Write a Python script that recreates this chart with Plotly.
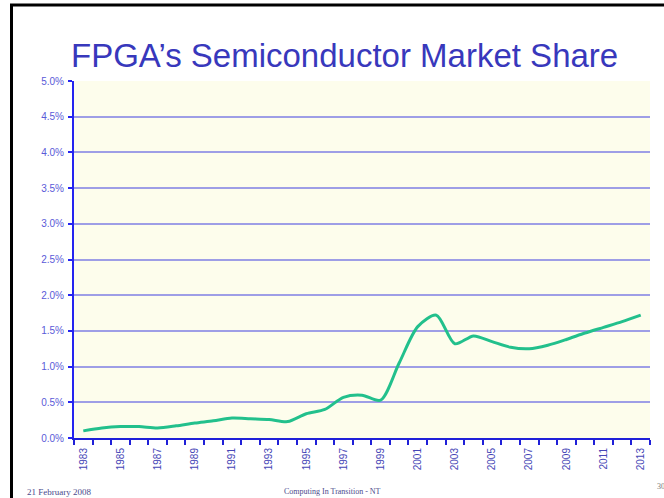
import plotly.graph_objects as go

years = list(range(1983, 2014))
share_pct = [0.10, 0.14, 0.16, 0.16, 0.14, 0.17, 0.21, 0.24, 0.28, 0.27,
             0.26, 0.23, 0.34, 0.40, 0.57, 0.60, 0.53, 1.05, 1.56, 1.72,
             1.32, 1.43, 1.35, 1.27, 1.25, 1.30, 1.38, 1.47, 1.55, 1.63, 1.72]
x_tick_years = list(range(1983, 2014, 2))
y_tick_vals = [i * 0.5 for i in range(11)]
y_tick_text = [f"{v:.1f}%" for v in y_tick_vals]

W, H = 664, 498
L, R, T, B = 74, 14, 81, 60
pw, ph = W - L - R, H - T - B

def px(x):
    return (x - L) / pw

def py(y):
    return 1 - (y - T) / ph

fig = go.Figure()
fig.add_trace(go.Scatter(
    x=years, y=share_pct, mode="lines",
    line=dict(color="#22c08c", width=3, shape="spline", smoothing=0.8),
    hoverinfo="x+y", showlegend=False,
))

fig.update_layout(
    width=W, height=H,
    margin=dict(l=L, r=R, t=T, b=B),
    paper_bgcolor="white",
    plot_bgcolor="#fdfdec",
    title=dict(text="FPGA\u2019s Semiconductor Market Share",
               font=dict(family="Liberation Sans, Arial", size=33, color="#3838bc"),
               x=0.519, xref="container", xanchor="center",
               y=1 - 55 / H, yref="container", yanchor="middle"),
    xaxis=dict(
        range=[1982.5, 2013.5],
        tickmode="array", tickvals=x_tick_years, ticktext=[str(y) for y in x_tick_years],
        tickangle=-90, ticks="", ticklabelstandoff=4,
        tickfont=dict(family="Liberation Sans, Arial", size=10, color="#4646b6"),
        showgrid=False, zeroline=False,
        showline=True, linecolor="#2020d8", linewidth=2,
        minor=dict(ticks="outside", tick0=1982.5, dtick=1, ticklen=5,
                   tickwidth=2, tickcolor="#2020d8", showgrid=False),
        fixedrange=True,
    ),
    yaxis=dict(
        range=[0, 5],
        tickmode="array", tickvals=y_tick_vals, ticktext=y_tick_text,
        ticks="outside", ticklen=4, tickwidth=2, tickcolor="#2424f0",
        ticklabelstandoff=2,
        tickfont=dict(family="Liberation Sans, Arial", size=10, color="#5a5ad8"),
        showgrid=True, gridcolor="#9e9ee6", gridwidth=1.5,
        zeroline=False,
        showline=True, linecolor="#2424f0", linewidth=2,
        fixedrange=True,
    ),
)

# slide border (top and left)
fig.add_shape(type="line", xref="paper", yref="paper",
              x0=px(10), x1=px(W + 5), y0=py(5), y1=py(5),
              line=dict(color="black", width=3))
fig.add_shape(type="line", xref="paper", yref="paper",
              x0=px(11.5), x1=px(11.5), y0=py(4), y1=py(H + 5),
              line=dict(color="black", width=3))

foot_font = dict(family="Liberation Serif, Times New Roman", size=8, color="#4a4a8c")
fig.add_annotation(text="21 February 2008", xref="paper", yref="paper",
                   x=px(25), y=py(492), xanchor="left", yanchor="middle",
                   showarrow=False,
                   font=dict(family="Liberation Serif, Times New Roman", size=9, color="#4a4a8c"))
fig.add_annotation(text="Computing In Transition - NT", xref="paper", yref="paper",
                   x=px(332), y=py(492), xanchor="center", yanchor="middle",
                   showarrow=False, font=foot_font)
fig.add_annotation(text="30", xref="paper", yref="paper",
                   x=px(655), y=py(486), xanchor="left", yanchor="middle",
                   showarrow=False, font=dict(family="Liberation Serif, Times New Roman",
                                              size=8, color="#777777"))

fig.write_html("out.html")
